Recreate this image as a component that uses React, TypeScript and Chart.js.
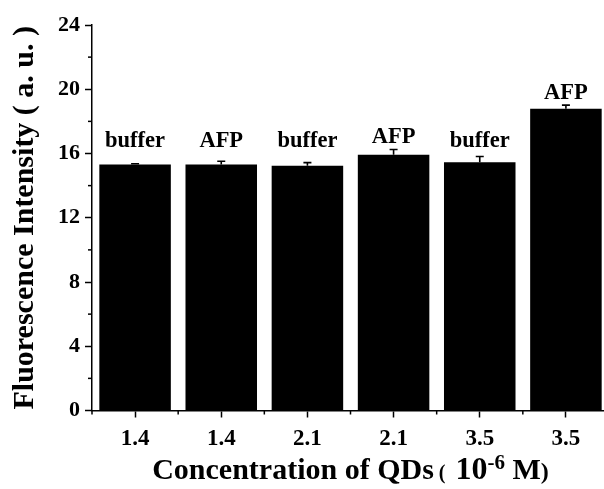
import React, { useEffect, useRef } from "react";
import { Chart, registerables } from "chart.js";

Chart.register(...registerables);

const categories = ["1.4", "1.4", "2.1", "2.1", "3.5", "3.5"];
const barLabels = ["buffer", "AFP", "buffer", "AFP", "buffer", "AFP"];
const values = [15.32, 15.32, 15.23, 15.92, 15.46, 18.78];
const errors = [0.04, 0.2, 0.2, 0.33, 0.35, 0.23];
const yMin = 0;
const yMax = 24;
const yStep = 4;
const yMinorStep = 2;
const labelLevel = 16.4;

const FONT = '"Liberation Serif", "Times New Roman", serif';
const W = 620;
const H = 489;

const customPlugin = {
  id: "customDraw",
  afterDatasetsDraw(chart: any) {
    const ctx = chart.ctx;
    const y = chart.scales.y;
    const meta = chart.getDatasetMeta(0);
    ctx.save();
    ctx.strokeStyle = "#000";
    ctx.lineWidth = 1.6;
    meta.data.forEach((bar: any, i: number) => {
      const top = y.getPixelForValue(values[i]);
      const et = y.getPixelForValue(values[i] + errors[i]);
      ctx.beginPath();
      ctx.moveTo(bar.x, top);
      ctx.lineTo(bar.x, et);
      ctx.moveTo(bar.x - 4, et);
      ctx.lineTo(bar.x + 4, et);
      ctx.stroke();
    });
    ctx.fillStyle = "#000";
    ctx.font = `bold 22.5px ${FONT}`;
    ctx.textAlign = "center";
    ctx.textBaseline = "alphabetic";
    meta.data.forEach((bar: any, i: number) => {
      const et = y.getPixelForValue(values[i] + errors[i]);
      const by = Math.min(et - 6, y.getPixelForValue(labelLevel));
      ctx.fillText(barLabels[i], bar.x, by);
    });
    ctx.restore();
  },
  afterDraw(chart: any) {
    const ctx = chart.ctx;
    const x = chart.scales.x;
    const y = chart.scales.y;
    const area = chart.chartArea;
    ctx.save();
    ctx.strokeStyle = "#000";
    ctx.lineWidth = 1.5;
    // y minor ticks
    for (let v = yMin + yMinorStep; v < yMax; v += yStep) {
      const py = y.getPixelForValue(v);
      ctx.beginPath();
      ctx.moveTo(area.left - 4, py);
      ctx.lineTo(area.left, py);
      ctx.stroke();
    }
    // x minor ticks at category boundaries
    for (let i = 0; i <= categories.length; i++) {
      let px: number;
      if (i === 0) px = area.left;
      else if (i === categories.length) px = area.right;
      else px = (x.getPixelForValue(i - 1) + x.getPixelForValue(i)) / 2;
      ctx.beginPath();
      ctx.moveTo(px, area.bottom);
      ctx.lineTo(px, area.bottom + 4);
      ctx.stroke();
    }
    // y title
    ctx.fillStyle = "#000";
    ctx.save();
    ctx.translate(25, (area.top + area.bottom) / 2);
    ctx.rotate(-Math.PI / 2);
    ctx.font = `bold 30px ${FONT}`;
    ctx.textAlign = "center";
    ctx.textBaseline = "middle";
    ctx.fillText("Fluorescence Intensity ( a. u. )", 0, 0);
    ctx.restore();
    // x title with superscript
    const parts: [string, number, number][] = [
      ["Concentration of QDs", 30, 0],
      [" (  ", 20, 0],
      ["10", 32, 0],
      ["-6", 21, -10],
      [" M", 30, 0],
      [")", 24, 0],
    ];
    let total = 0;
    parts.forEach(([t, s]) => {
      ctx.font = `bold ${s}px ${FONT}`;
      total += ctx.measureText(t).width;
    });
    let cx = (area.left + area.right) / 2 - total / 2;
    const baseY = 479;
    ctx.textAlign = "left";
    ctx.textBaseline = "alphabetic";
    parts.forEach(([t, s, dy]) => {
      ctx.font = `bold ${s}px ${FONT}`;
      ctx.fillText(t, cx, baseY + dy);
      cx += ctx.measureText(t).width;
    });
    ctx.restore();
  },
};

export default function App() {
  const ref = useRef<HTMLCanvasElement | null>(null);
  useEffect(() => {
    document.body.style.overflow = "hidden";
    document.documentElement.style.overflow = "hidden";
    const canvas = ref.current;
    if (!canvas) return;
    const chart = new Chart(canvas, {
      type: "bar",
      data: {
        labels: categories,
        datasets: [
          {
            data: values,
            backgroundColor: "#000",
            borderColor: "#000",
            borderWidth: 0,
            barPercentage: 0.83,
            categoryPercentage: 1,
          },
        ],
      },
      options: {
        animation: false,
        responsive: false,
        devicePixelRatio: 1,
        layout: { padding: { top: 25, right: 11, left: 0, bottom: 0 } },
        plugins: {
          legend: { display: false },
          tooltip: { enabled: false },
          title: { display: false },
        },
        scales: {
          x: {
            offset: true,
            grid: {
              offset: false,
              drawOnChartArea: false,
              drawTicks: true,
              tickLength: 7,
              tickColor: "#000",
              tickWidth: 1.5,
            },
            border: { display: true, color: "#000", width: 1.5 },
            ticks: {
              color: "#000",
              font: { family: FONT, size: 23, weight: "bold" },
              padding: 8,
              maxRotation: 0,
            },
            afterFit: (scale: any) => {
              scale.height = H - 410.5;
            },
          },
          y: {
            min: yMin,
            max: yMax,
            grid: {
              drawOnChartArea: false,
              drawTicks: true,
              tickLength: 7,
              tickColor: "#000",
              tickWidth: 1.5,
            },
            border: { display: true, color: "#000", width: 1.5 },
            ticks: {
              stepSize: yStep,
              color: "#000",
              font: { family: FONT, size: 22, weight: "bold" },
              padding: 5,
            },
            afterFit: (scale: any) => {
              scale.width = 92;
            },
          },
        },
      },
      plugins: [customPlugin],
    } as any);
    return () => chart.destroy();
  }, []);
  return (
    <div style={{ position: "fixed", left: 0, top: 0, width: W, height: H, background: "#fff" }}>
      <canvas ref={ref} width={W} height={H} style={{ width: W, height: H, display: "block" }} />
    </div>
  );
}
